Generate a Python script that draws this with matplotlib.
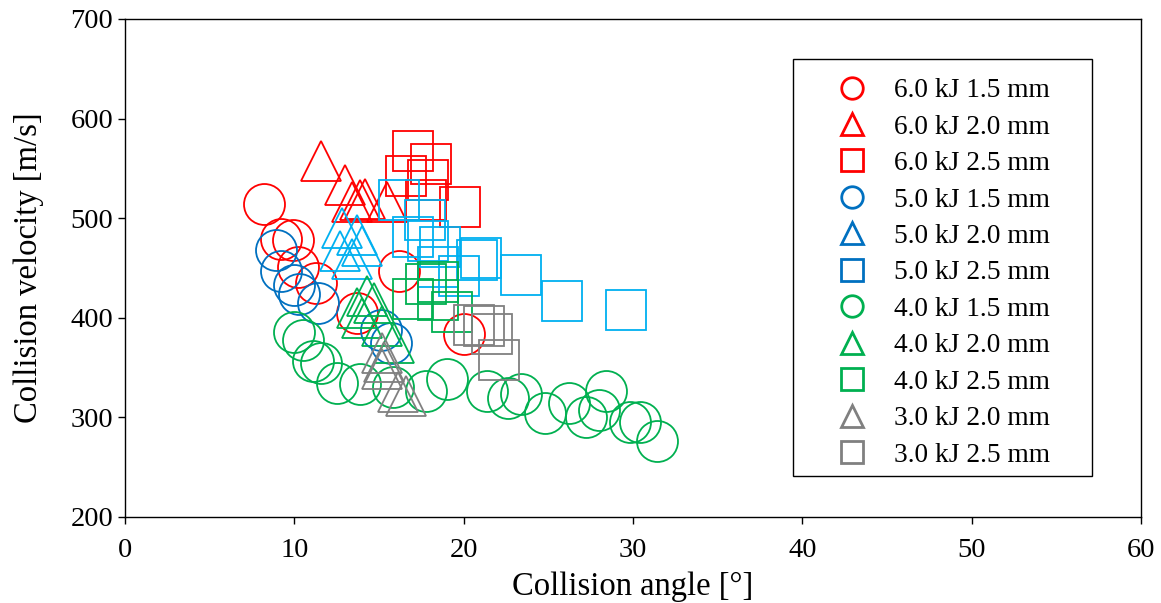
import matplotlib.pyplot as plt
from matplotlib.lines import Line2D
from matplotlib.patches import Rectangle

plt.rcParams['font.family'] = ['Liberation Serif', 'DejaVu Serif']

# data (angle [deg], velocity [m/s])
red_circ_x = [8.2, 9.2, 9.9, 10.2, 11.3, 13.7, 16.2, 20.0]
red_circ_y = [514, 479, 478, 451, 435, 405, 447, 384]
red_tri_x = [11.6, 13.0, 13.4, 13.9, 14.2, 15.5]
red_tri_y = [557, 533, 516, 518, 519, 516]
red_sq_x = [17.0, 18.1, 16.6, 17.9, 17.8, 19.8]
red_sq_y = [567, 554, 542, 538, 518, 511]

blue_circ_x = [8.9, 9.2, 10.0, 10.3, 11.4, 15.1, 15.7]
blue_circ_y = [468, 447, 433, 424, 415, 388, 375]
cyan_tri_x = [12.8, 13.7, 12.7, 13.4, 14.0]
cyan_tri_y = [490, 483, 467, 459, 472]
cyan_sq_x = [16.2, 17.7, 17.0, 17.9, 18.6, 18.5, 19.7, 20.8, 21.0, 23.4, 25.8, 29.6]
cyan_sq_y = [518, 498, 481, 477, 471, 451, 442, 458, 460, 443, 417, 408]

green_circ_x = [10.0, 10.5, 11.1, 11.6, 12.5, 13.9, 15.8, 17.8, 19.0, 21.4,
                22.6, 23.4, 24.8, 26.2, 27.2, 28.0, 28.4, 29.8, 30.4, 31.4]
green_circ_y = [386, 378, 357, 355, 335, 334, 331, 327, 339, 327,
                319, 323, 304, 314, 300, 307, 327, 295, 295, 276]
green_tri_x = [14.3, 14.7, 13.7, 14.0, 15.2, 15.9]
green_tri_y = [422, 415, 410, 400, 392, 375]
green_sq_x = [17.8, 18.5, 17.0, 18.5, 19.3]
green_sq_y = [434, 436, 419, 418, 406]

grey_tri_x = [15.2, 15.3, 15.2, 16.1, 16.6]
grey_tri_y = [365, 356, 349, 326, 321]
grey_sq_x = [20.6, 21.2, 21.7, 22.1]
grey_sq_y = [393, 392, 384, 358]

labels = ['6.0 kJ 1.5 mm', '6.0 kJ 2.0 mm', '6.0 kJ 2.5 mm',
          '5.0 kJ 1.5 mm', '5.0 kJ 2.0 mm', '5.0 kJ 2.5 mm',
          '4.0 kJ 1.5 mm', '4.0 kJ 2.0 mm', '4.0 kJ 2.5 mm',
          '3.0 kJ 2.0 mm', '3.0 kJ 2.5 mm']

RED = '#FF0000'
BLUE = '#0070C0'
CYAN = '#00B0F0'
GREEN = '#00B050'
GREY = '#808080'

series = [
    (red_circ_x, red_circ_y, 'o', RED, RED),
    (red_tri_x, red_tri_y, '^', RED, RED),
    (red_sq_x, red_sq_y, 's', RED, RED),
    (blue_circ_x, blue_circ_y, 'o', BLUE, BLUE),
    (cyan_tri_x, cyan_tri_y, '^', CYAN, BLUE),
    (cyan_sq_x, cyan_sq_y, 's', CYAN, BLUE),
    (green_circ_x, green_circ_y, 'o', GREEN, GREEN),
    (green_tri_x, green_tri_y, '^', GREEN, GREEN),
    (green_sq_x, green_sq_y, 's', GREEN, GREEN),
    (grey_tri_x, grey_tri_y, '^', GREY, GREY),
    (grey_sq_x, grey_sq_y, 's', GREY, GREY),
]

W, H = 1161, 603
fig = plt.figure(figsize=(W/100, H/100), dpi=100)
ax = fig.add_axes([125/W, 1 - 517/H, (1141 - 125)/W, (517 - 19)/H])

handles = []
for (x, y, m, c, lc), lab in zip(series, labels):
    ax.plot(x, y, linestyle='none', marker=m, markersize=29.5,
            markerfacecolor='none', markeredgecolor=c, markeredgewidth=1.3)
    handles.append(Line2D([], [], linestyle='none', marker=m, markersize=15.5,
                          markerfacecolor='none', markeredgecolor=lc,
                          markeredgewidth=2.0, label=lab))

ax.set_xlim(0, 60)
ax.set_ylim(200, 700)
ax.set_xticks(range(0, 61, 10))
ax.set_yticks(range(200, 701, 100))
ax.tick_params(direction='out', length=5, width=1, labelsize=20.5, colors='black')
ax.tick_params(axis='x', pad=10)
for s in ax.spines.values():
    s.set_linewidth(1.0)
    s.set_color('black')

ax.set_xlabel('Collision angle [°]', fontsize=23.5, labelpad=6)
ax.set_ylabel('Collision velocity [m/s]', fontsize=23.5, labelpad=19)

# legend frame drawn separately
fig.add_artist(Rectangle((793/W, 1 - 476/H), 299/W, 417/H,
                         transform=fig.transFigure, fill=False,
                         edgecolor='black', linewidth=1.0))
fig.legend(handles=handles, loc='upper left',
           bbox_to_anchor=(836/W, 1 - 78/H),
           bbox_transform=fig.transFigure, fontsize=19.75, frameon=False,
           borderpad=0.0, labelspacing=0.41, handlelength=1.2,
           handletextpad=0.93, borderaxespad=0.0)

fig.savefig('out.png', dpi=100)
